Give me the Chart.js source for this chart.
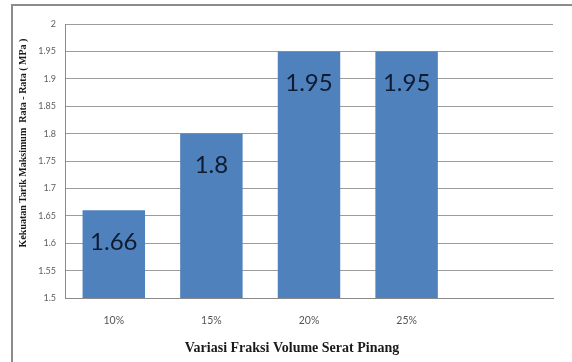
<!DOCTYPE html>
<html>
<head>
<meta charset="utf-8">
<script src="https://cdn.jsdelivr.net/npm/chart.js@4"></script>
<style>
  html, body { margin: 0; padding: 0; background: #fff; overflow: hidden; width: 572px; height: 362px; }
  canvas { display: block; }
</style>
</head>
<body>
<canvas id="c" width="572" height="362"></canvas>
<script>
// Fibre volume fraction categories (last slot left empty, as in the worksheet range)
const categories = ['10%', '15%', '20%', '25%', ''];
// Average maximum tensile strength (MPa)
const strengthValues = [1.66, 1.8, 1.95, 1.95, null];
// Value axis range
const yMin = 1.5;
const yMax = 2;
const yStep = 0.05;

const yTitle = 'Kekuatan Tarik Maksimum  Rata - Rata ( MPa )';
const xTitle = 'Variasi Fraksi Volume Serat Pinang';

// Chart-area frame: grey left and top edges on a white page
const chartFrame = {
  id: 'chartFrame',
  beforeDraw(chart) {
    const ctx = chart.ctx;
    ctx.save();
    ctx.fillStyle = '#ffffff';
    ctx.fillRect(0, 0, chart.width, chart.height);
    ctx.strokeStyle = '#8c8c8c';
    ctx.lineWidth = 2;
    ctx.beginPath();
    ctx.moveTo(12, chart.height);
    ctx.lineTo(12, 5);
    ctx.lineTo(chart.width, 5);
    ctx.stroke();
    ctx.restore();
  }
};

// Writes each bar's value just inside its top end
const valueLabels = {
  id: 'valueLabels',
  afterDatasetsDraw(chart) {
    const ctx = chart.ctx;
    const meta = chart.getDatasetMeta(0);
    ctx.save();
    ctx.font = '24px Lato, "Noto Sans", sans-serif';
    ctx.fillStyle = '#0e1b31';
    ctx.textAlign = 'center';
    ctx.textBaseline = 'middle';
    meta.data.forEach((bar, i) => {
      const v = strengthValues[i];
      if (v == null) return;
      ctx.fillText(String(v), bar.x, bar.y + 32);
    });
    ctx.restore();
  }
};

// Axis titles in Times-style bold serif
const axisTitles = {
  id: 'axisTitles',
  afterDraw(chart) {
    const ctx = chart.ctx;
    ctx.save();
    ctx.fillStyle = '#1a1a1a';
    ctx.textAlign = 'center';
    ctx.textBaseline = 'middle';
    ctx.font = 'bold 14px "Liberation Serif", "DejaVu Serif", serif';
    ctx.fillText(xTitle, 292, 348);
    ctx.translate(23, 143);
    ctx.rotate(-Math.PI / 2);
    ctx.font = 'bold 10px "Liberation Serif", "DejaVu Serif", serif';
    ctx.fillText(yTitle, 0, 0);
    ctx.restore();
  }
};

new Chart(document.getElementById('c'), {
  type: 'bar',
  data: {
    labels: categories,
    datasets: [{
      data: strengthValues,
      backgroundColor: '#4f81bd',
      borderWidth: 0,
      barPercentage: 0.64,
      categoryPercentage: 1
    }]
  },
  options: {
    responsive: false,
    animation: false,
    devicePixelRatio: 1,
    layout: { padding: { left: 0, right: 19, top: 24, bottom: 0 } },
    plugins: {
      legend: { display: false },
      tooltip: { enabled: false },
      title: { display: false }
    },
    scales: {
      x: {
        grid: { display: false, drawTicks: false },
        border: { display: true, color: '#8a8a8a', width: 1 },
        ticks: {
          padding: 16,
          color: '#555555',
          font: { family: 'Lato, "Noto Sans", sans-serif', size: 10.5 }
        },
        afterFit(scale) { scale.height = 64; }
      },
      y: {
        min: yMin,
        max: yMax,
        grid: { color: '#9c9c9c', lineWidth: 1, drawTicks: false },
        border: { display: true, color: '#8a8a8a', width: 1 },
        ticks: {
          stepSize: yStep,
          padding: 9,
          color: '#5e5e5e',
          font: { family: 'Lato, "Noto Sans", sans-serif', size: 9 },
          callback: (v) => String(+Number(v).toFixed(2))
        },
        afterFit(scale) { scale.width = 65; }
      }
    }
  },
  plugins: [chartFrame, valueLabels, axisTitles]
});
</script>
</body>
</html>
